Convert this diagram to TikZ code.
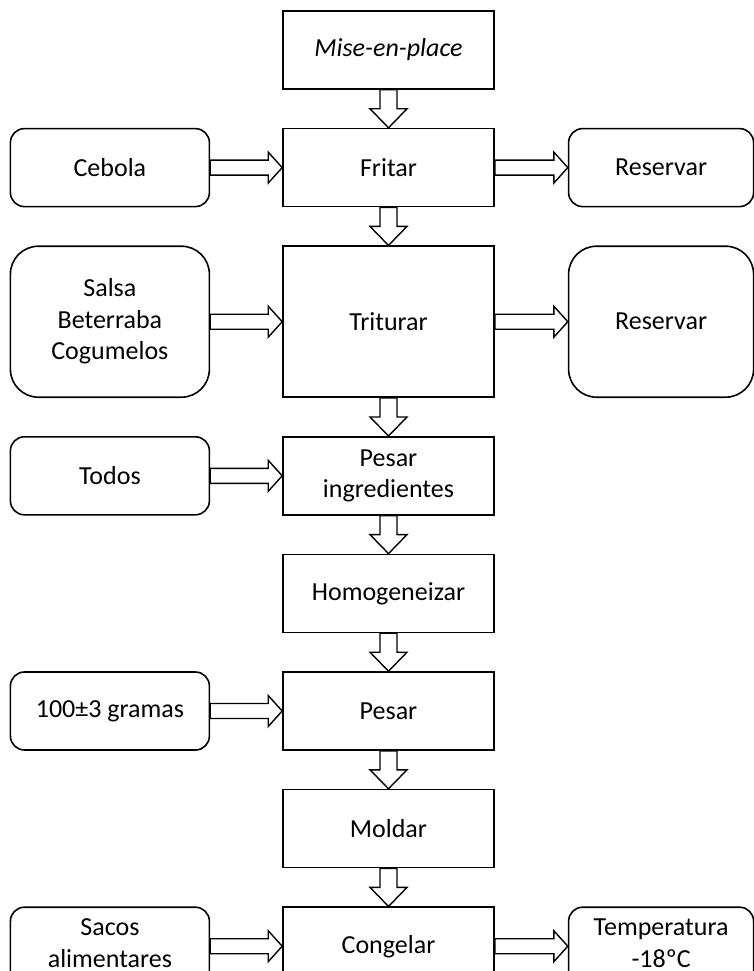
\documentclass[tikz,border=0pt]{standalone}
\usepackage{fontspec}
\setmainfont{Carlito}
\usetikzlibrary{positioning,calc}

\tikzset{
  passo/.style={draw, line width=1.6pt, minimum width=211pt, minimum height=78pt, align=center, inner sep=0pt},
  entrada/.style={passo, rounded corners=14pt, minimum width=199pt},
  saida/.style={passo, rounded corners=14pt, minimum width=185pt},
  seta/.style={draw, fill=white, line width=1.4pt, line join=miter}
}

\begin{document}
\begin{tikzpicture}[x=1pt, y=1pt, node distance=38pt and 72pt, font=\fontsize{26}{31.5}\selectfont]
  \useasboundingbox (0,0) rectangle (754,-971);
  % central steps
  \node[passo] (Mise) at (388.5,-50) {\itshape Mise-en-place};
  \node[passo, below=of Mise] (Fritar) {Fritar};
  \node[passo, minimum height=151pt, below=of Fritar] (Triturar) {Triturar};
  \node[passo, below=of Triturar] (PesIng) {Pesar\\ingredientes};
  \node[passo, below=of PesIng] (Homog) {Homogeneizar};
  \node[passo, below=of Homog] (Pesar) {Pesar};
  \node[passo, below=of Pesar] (Moldar) {Moldar};
  \node[passo, below=of Moldar] (Congelar) {Congelar};
  % inputs
  \node[entrada, left=of Fritar] (Cebola) {Cebola};
  \node[entrada, minimum height=151pt, rounded corners=28pt, left=of Triturar] (Salsa) {Salsa\\Beterraba\\Cogumelos};
  \node[entrada, left=of PesIng] (Todos) {Todos};
  \node[entrada, left=of Pesar] (Gramas) {100±3 gramas};
  \node[entrada, text depth=6pt, left=of Congelar] (Sacos) {Sacos\\alimentares};
  % outputs
  \node[saida, right=73pt of Fritar] (ResA) {Reservar};
  \node[saida, minimum height=151pt, rounded corners=28pt, right=73pt of Triturar] (ResB) {Reservar};
  \node[saida, text depth=6pt, right=73pt of Congelar] (Temp) {Temperatura\\-18ºC};
  % block arrows down
  \foreach \a/\b in {Mise/Fritar, Fritar/Triturar, Triturar/PesIng, PesIng/Homog, Homog/Pesar, Pesar/Moldar, Moldar/Congelar}
    \draw[seta] ($(\a.south)+(-8.5,0)$) -- ($(\b.north)+(-8.5,19)$) -- ++(-10,0) -- (\b.north)
      -- ($(\b.north)+(18.5,19)$) -- ++(-10,0) -- ($(\a.south)+(8.5,0)$) -- cycle;
  % block arrows right
  \foreach \a/\b in {Cebola/Fritar, Fritar/ResA, Salsa/Triturar, Triturar/ResB, Todos/PesIng, Gramas/Pesar, Sacos/Congelar, Congelar/Temp}
    \draw[seta] ($(\a.east)+(0,7.5)$) -- ($(\b.west)+(-14,7.5)$) -- ++(0,8) -- (\b.west)
      -- ($(\b.west)+(-14,-15.5)$) -- ++(0,8) -- ($(\a.east)+(0,-7.5)$) -- cycle;
\end{tikzpicture}
\end{document}
